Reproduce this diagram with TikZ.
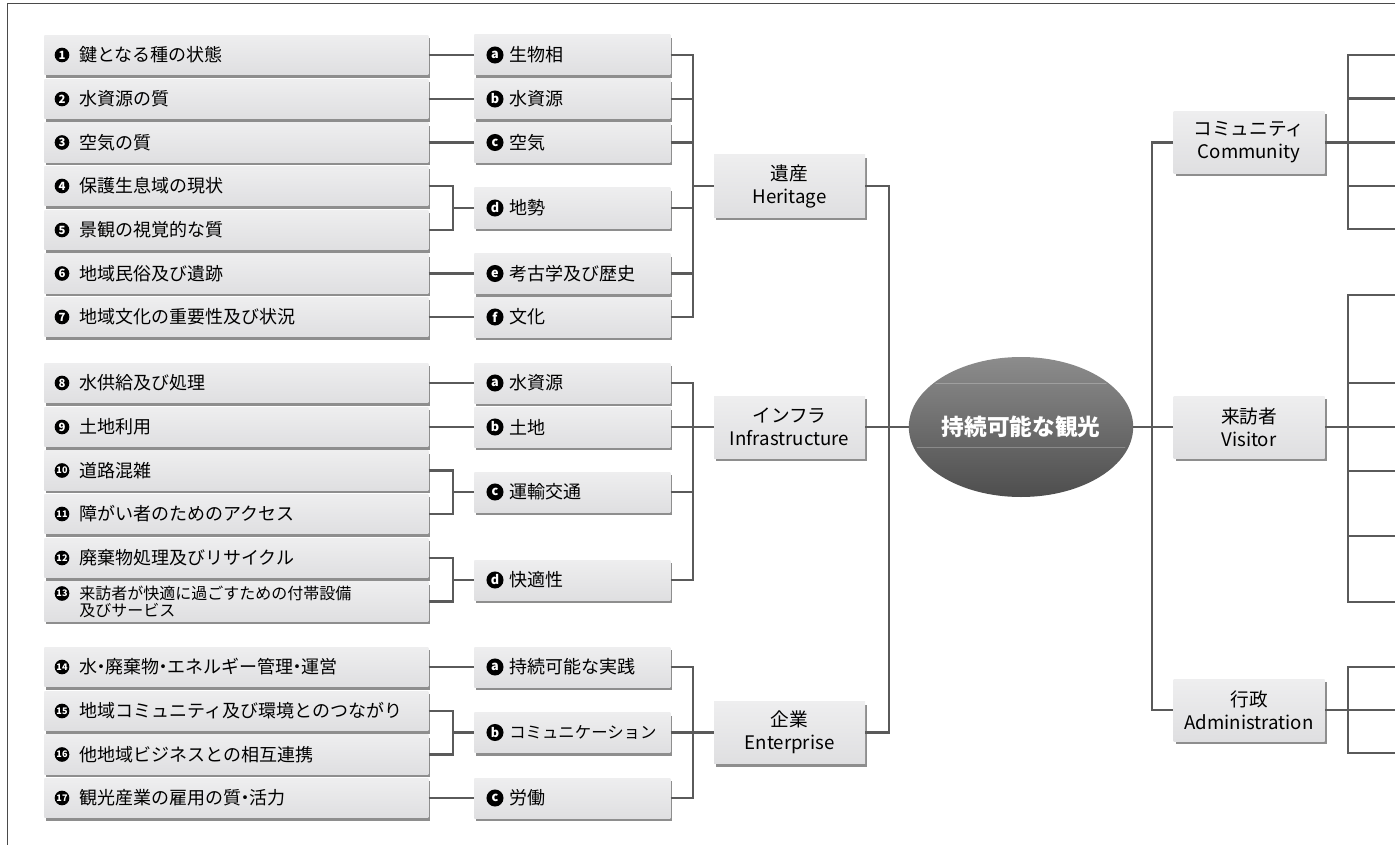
\documentclass[tikz,border=0pt]{standalone}
\usepackage{fontspec}
\setmainfont{Noto Sans CJK JP}
\usetikzlibrary{shapes.geometric}
\definecolor{ln}{HTML}{5A5A5A}
\definecolor{bxtop}{HTML}{EEEEEF}
\definecolor{bxbot}{HTML}{DFDFE1}
\definecolor{shd}{HTML}{8E8E8E}
\definecolor{elltop}{HTML}{8C8C8C}
\definecolor{ellmid}{HTML}{7A7A7A}
\definecolor{ellbot}{HTML}{4E4E4E}
\definecolor{frm}{HTML}{4A4A4A}
\newcommand{\nd}{\kern-0.28em・\kern-0.28em}
\begin{document}
\begin{tikzpicture}[x=0.75pt,y=-0.75pt,
  bx/.style={rectangle, inner ysep=0pt, top color=bxtop, bottom color=bxbot,
    preaction={fill=shd, transform canvas={xshift=1.5pt,yshift=-2.25pt}}},
  lbox/.style={bx, anchor=west, inner xsep=26.25pt, text width=235.5pt, minimum height=29.5pt,
    align=left, font=\fontsize{13.5pt}{16pt}\selectfont},
  mbox/.style={bx, anchor=west, inner xsep=26.25pt, text width=94.5pt, minimum height=30pt,
    align=left, font=\fontsize{13.5pt}{16pt}\selectfont},
  cbox/.style={bx, minimum width=113.25pt, minimum height=46.5pt, align=center,
    font=\fontsize{14pt}{17.25pt}\selectfont},
  numc/.style={circle, fill=black, text=white, inner sep=0pt, minimum size=11pt,
    font=\bfseries\fontsize{8.5pt}{8.5pt}\selectfont},
  numd/.style={numc, font=\bfseries\fontsize{6.8pt}{6.8pt}\selectfont},
  letc/.style={numc, minimum size=12.8pt, font=\bfseries\fontsize{9.5pt}{9.5pt}\selectfont},
  cn/.style={draw=ln, line width=1.6pt},
  ell/.style={ellipse, minimum width=163.5pt, minimum height=105pt, inner sep=0pt, text=white,
    top color=elltop, middle color=ellmid, bottom color=ellbot,
    font=\bfseries\fontsize{17pt}{18pt}\selectfont}
]
\useasboundingbox (0,0) rectangle (1395,845);
% frame
\draw[frm, line width=0.7pt] (7,850) -- (7,3) -- (1400,3);

% ---------- left boxes ----------
\node[lbox] (L1) at (44,55) {鍵となる種の状態};
\node[lbox] (L2) at (44,99) {水資源の質};
\node[lbox] (L3) at (44,142.5) {空気の質};
\node[lbox] (L4) at (44,186) {保護生息域の現状};
\node[lbox] (L5) at (44,230) {景観の視覚的な質};
\node[lbox] (L6) at (44,273.5) {地域民俗及び遺跡};
\node[lbox] (L7) at (44,317) {地域文化の重要性及び状況};
\node[lbox] (L8) at (44,383) {水供給及び処理};
\node[lbox] (L9) at (44,427) {土地利用};
\node[lbox] (L10) at (44,470.5) {道路混雑};
\node[lbox] (L11) at (44,514) {障がい者のためのアクセス};
\node[lbox] (L12) at (44,558) {廃棄物処理及びリサイクル};
\node[lbox, font=\fontsize{12pt}{12.75pt}\selectfont] (L13) at (44,601.5) {来訪者が快適に過ごすための付帯設備\\及びサービス};
\node[lbox] (L14) at (44,667) {水\nd 廃棄物\nd エネルギー管理\nd 運営};
\node[lbox] (L15) at (44,711) {地域コミュニティ及び環境とのつながり};
\node[lbox] (L16) at (44,754.5) {他地域ビジネスとの相互連携};
\node[lbox] (L17) at (44,798) {観光産業の雇用の質\nd 活力};

\foreach \i in {1,...,9} {\node[numc] (N\i) at ([xshift=13.5pt]L\i.west) {\i};}
\foreach \i in {10,11,12,14,15,16,17} {\node[numd] (N\i) at ([xshift=13.5pt]L\i.west) {\i};}
\node[numd] (N13) at ([xshift=13.5pt,yshift=6pt]L13.west) {13};

% ---------- middle boxes ----------
\node[mbox] (Ha) at (474,55) {生物相};
\node[mbox] (Hb) at (474,99) {水資源};
\node[mbox] (Hc) at (474,142.5) {空気};
\node[mbox] (Hd) at (474,208) {地勢};
\node[mbox] (He) at (474,273.5) {考古学及び歴史};
\node[mbox] (Hf) at (474,317) {文化};
\node[mbox] (Ia) at (474,383) {水資源};
\node[mbox] (Ib) at (474,427) {土地};
\node[mbox] (Ic) at (474,492) {運輸交通};
\node[mbox] (Id) at (474,580) {快適性};
\node[mbox] (Ea) at (474,667) {持続可能な実践};
\node[mbox, font=\fontsize{12.3pt}{14pt}\selectfont] (Eb) at (474,732.5) {コミュニケーション};
\node[mbox] (Ec) at (474,798) {労働};

\foreach \n/\l in {Ha/a,Hb/b,Hc/c,Hd/d,He/e,Hf/f,Ia/a,Ib/b,Ic/c,Id/d,Ea/a,Eb/b,Ec/c}
  {\node[letc] (C\n) at ([xshift=15.75pt]\n.west) {\l};}

% ---------- category boxes ----------
\node[cbox] (Her) at (789.5,186) {遺産\\Heritage};
\node[cbox] (Inf) at (789.5,427) {インフラ\\Infrastructure};
\node[cbox] (Ent) at (789.5,732.5) {企業\\Enterprise};

\node[cbox] (Com) at (1249,142.5) {コミュニティ\\Community};
\node[cbox] (Vis) at (1249,427) {来訪者\\Visitor};
\node[cbox] (Adm) at (1249,710) {行政\\Administration};

% ---------- centre ----------
\node[ell] (ell) at (1021,427) {持続可能な観光};
\begin{scope}
  \clip (ell.center) ellipse [x radius=109, y radius=70];
  \draw[white, opacity=0.25, line width=0.6pt] (900,383) -- (1140,383);
  \draw[white, opacity=0.25, line width=0.6pt] (900,447) -- (1140,447);
\end{scope}

% ---------- connectors: left to middle ----------
\draw[cn] (L1.east) -- (Ha.west);
\draw[cn] (L2.east) -- (Hb.west);
\draw[cn] (L3.east) -- (Hc.west);
\coordinate (j45) at (453,208);
\draw[cn] (L4.east) -| (j45) |- (L5.east);
\draw[cn] (j45) -- (Hd.west);
\draw[cn] (L6.east) -- (He.west);
\draw[cn] (L7.east) -- (Hf.west);

\draw[cn] (L8.east) -- (Ia.west);
\draw[cn] (L9.east) -- (Ib.west);
\coordinate (j1011) at (453,492);
\draw[cn] (L10.east) -| (j1011) |- (L11.east);
\draw[cn] (j1011) -- (Ic.west);
\coordinate (j1213) at (453,580);
\draw[cn] (L12.east) -| (j1213) |- (L13.east);
\draw[cn] (j1213) -- (Id.west);

\draw[cn] (L14.east) -- (Ea.west);
\coordinate (j1516) at (453,732.5);
\draw[cn] (L15.east) -| (j1516) |- (L16.east);
\draw[cn] (j1516) -- (Eb.west);
\draw[cn] (L17.east) -- (Ec.west);

% ---------- middle to category ----------
\coordinate (vH) at (693,186);
\foreach \n in {Ha,Hb,Hc,Hd,He,Hf} {\draw[cn] (\n.east) -| (vH);}
\draw[cn] (vH) -- (Her.west);
\coordinate (vI) at (693,427);
\foreach \n in {Ia,Ib,Ic,Id} {\draw[cn] (\n.east) -| (vI);}
\draw[cn] (vI) -- (Inf.west);
\coordinate (vE) at (693,732.5);
\foreach \n in {Ea,Eb,Ec} {\draw[cn] (\n.east) -| (vE);}
\draw[cn] (vE) -- (Ent.west);

% ---------- category to centre ----------
\coordinate (vC) at (889,427);
\draw[cn] (Her.east) -| (vC);
\draw[cn] (Ent.east) -| (vC);
\draw[cn] (Inf.east) -- (vC);
\draw[cn] (vC) -- (ell.west);

% ---------- centre to right ----------
\coordinate (vR) at (1152,427);
\draw[cn] (ell.east) -- (vR);
\draw[cn] (vR) |- (Com.west);
\draw[cn] (vR) -- (Vis.west);
\draw[cn] (vR) |- (Adm.west);

% ---------- right ticks ----------
\coordinate (cR) at (1348,142.5);
\draw[cn] (Com.east) -- (cR);
\foreach \y [count=\k] in {55,98.5,142.5,186,229} {
  \coordinate (ec\k) at (1400,\y);
  \draw[cn] (cR) |- (ec\k);}
\coordinate (vRR) at (1348,427);
\draw[cn] (Vis.east) -- (vRR);
\foreach \y [count=\k] in {295,383,427,471,536,602} {
  \coordinate (ev\k) at (1400,\y);
  \draw[cn] (vRR) |- (ev\k);}
\coordinate (aR) at (1348,710);
\draw[cn] (Adm.east) -- (aR);
\foreach \y [count=\k] in {667,710,753} {
  \coordinate (ea\k) at (1400,\y);
  \draw[cn] (aR) |- (ea\k);}
\end{tikzpicture}
\end{document}
